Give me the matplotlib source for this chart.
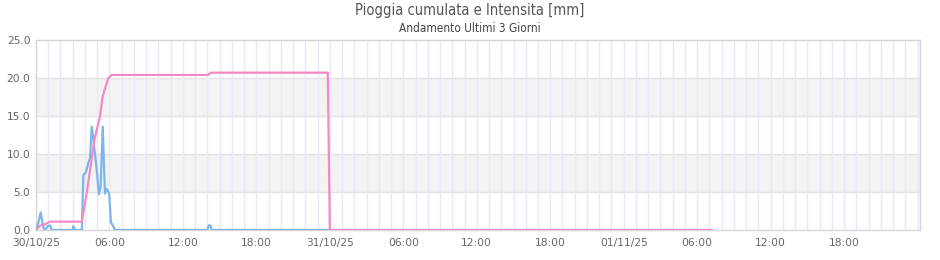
import numpy as np
import pandas as pd
import matplotlib
matplotlib.use("Agg")
from matplotlib import pyplot as plt
import matplotlib.dates as mdates
from matplotlib.ticker import FixedLocator, FuncFormatter

start = pd.Timestamp("2025-10-30 00:00")

# intensita (blu): ore dall'inizio, mm
int_hours = [0.0, 0.2, 0.38, 0.6, 0.75, 0.95, 1.15, 1.3, 3.0, 3.05, 3.2, 3.75,
             3.86, 4.08, 4.27, 4.41, 4.55, 4.68, 4.96, 5.14, 5.28, 5.45, 5.63,
             5.77, 5.98, 6.12, 6.31, 6.45, 14.0, 14.1, 14.25, 14.35, 55.2]
int_mm = [0, 1.0, 2.3, 0.3, 0, 0.5, 0.6, 0, 0, 0.5, 0, 0,
          7.2, 7.6, 8.8, 9.4, 13.6, 12.0, 7.9, 4.7, 5.8, 13.6, 4.8,
          5.4, 4.8, 1.0, 0.5, 0, 0, 0.6, 0.6, 0, 0]

# pioggia cumulata (rosa)
cum_hours = [0.0, 0.33, 0.73, 1.14, 3.73, 4.14, 4.55, 4.76, 5.22, 5.44, 5.63,
             5.9, 6.18, 14.07, 14.27, 23.83, 24.0, 55.2]
cum_mm = [0, 0.57, 0.75, 1.1, 1.1, 4.8, 9.4, 11.8, 14.9, 17.5, 18.6,
          19.95, 20.4, 20.4, 20.7, 20.7, 0, 0]

y_ticks = [0, 5, 10, 15, 20, 25]

def to_dates(hours):
    return [start + pd.Timedelta(hours=h) for h in hours]

fig = plt.figure(figsize=(9.4, 2.6), dpi=100)
ax = fig.add_axes([36/940, 30/260, 884/940, 190/260])

# bande alternate
for lo in (5, 15):
    ax.axhspan(lo, lo + 5, color="#f3f3f4", zorder=0, lw=0)
for y in y_ticks[1:-1]:
    ax.axhline(y, color="#e2e2e2", lw=1, zorder=1)

x0 = mdates.date2num(start)
x1 = mdates.date2num(start + pd.Timedelta(hours=72.2))
for h in range(1, 73):
    ax.axvline(mdates.date2num(start + pd.Timedelta(hours=h)), color="#e8e8f8", lw=1, zorder=1)

ax.plot(to_dates(int_hours), int_mm, color="#7cb5ec", lw=1.6, zorder=3)
ax.plot(to_dates(cum_hours), cum_mm, color="#f38ac6", lw=1.6, zorder=4)

ax.set_xlim(x0, x1)
ax.set_ylim(0, 25)

xt = [mdates.date2num(start + pd.Timedelta(hours=6 * i)) for i in range(12)]
ax.xaxis.set_major_locator(FixedLocator(xt))
def fmt_x(v, pos):
    d = mdates.num2date(v)
    if d.hour == 0:
        return d.strftime("%d/%m/%y")
    return d.strftime("%H:%M")
ax.xaxis.set_major_formatter(FuncFormatter(fmt_x))
ax.set_yticks(y_ticks)
ax.yaxis.set_major_formatter(FuncFormatter(lambda v, p: "%.1f" % v))
ax.tick_params(length=0, labelsize=7.7, colors="#666666", pad=4)
ax.tick_params(axis="x", pad=6)

for s in ax.spines.values():
    s.set_color("#d6d6d6")
    s.set_linewidth(1)

fig.text(0.5, 1 - 11/260, "Pioggia cumulata e Intensita [mm]", ha="center", va="center",
         fontsize=10.5, color="#555555", fontstretch="condensed")
fig.text(0.5, 1 - 28/260, "Andamento Ultimi 3 Giorni", ha="center", va="center",
         fontsize=8.5, color="#444444", fontstretch="condensed")

fig.savefig("out.png", dpi=100)
